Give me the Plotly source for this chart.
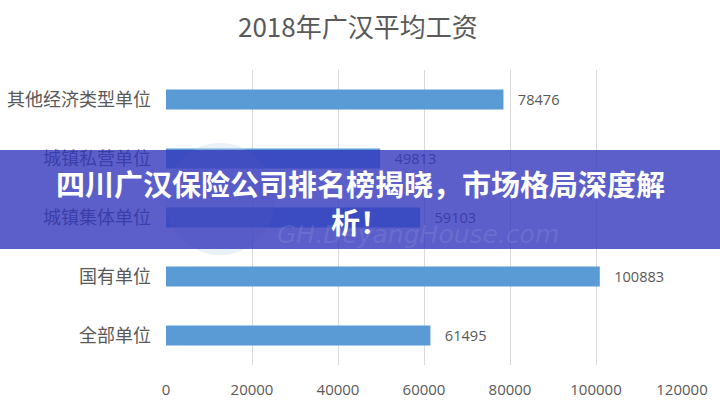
import plotly.graph_objects as go

# 2018 average annual wage in Guanghan, by type of employer (yuan)
categories = ["其他经济类型单位", "城镇私营单位", "城镇集体单位", "国有单位", "全部单位"]
wages = [78476, 49813, 59103, 100883, 61495]
x_ticks = [0, 20000, 40000, 60000, 80000, 100000, 120000]

title_text = "2018年广汉平均工资"
banner_lines = ["四川广汉保险公司排名榜揭晓，市场格局深度解", "析！"]
watermark_text = "GH.DeyangHouse.com"

TEXT_GREY = "#595959"
BAR_BLUE = "#5b9bd5"
CJK = "Noto Sans CJK SC"
NUM = "Open Sans"

# plot area in pixels: used to place overlay shapes in paper coordinates
L, R, T, B = 166, 38, 70, 35
PW, PH = 720 - L - R, 400 - T - B


def px_x(x):
    return (x - L) / PW


def px_y(y):
    return (400 - B - y) / PH


fig = go.Figure(
    go.Bar(
        x=wages,
        y=categories,
        orientation="h",
        marker=dict(color=BAR_BLUE, line=dict(width=0)),
        width=0.34,
        text=[str(v) for v in wages],
        texttemplate="\u00a0\u00a0\u00a0%{text}",
        textposition="outside",
        textfont=dict(family=NUM, size=16, color=TEXT_GREY),
        cliponaxis=False,
        hoverinfo="skip",
    )
)

fig.update_layout(
    width=720,
    height=400,
    margin=dict(l=L, r=R, t=T, b=B, autoexpand=False),
    paper_bgcolor="white",
    plot_bgcolor="white",
    showlegend=False,
    title=dict(
        text=title_text,
        x=0.497,
        xanchor="center",
        y=0.93,
        yanchor="middle",
        font=dict(family=CJK, size=26, color=TEXT_GREY),
    ),
    xaxis=dict(
        range=[0, 120000],
        tickvals=x_ticks,
        ticktext=[str(t) for t in x_ticks],
        showgrid=True,
        gridcolor="#d9d9d9",
        gridwidth=1,
        zeroline=False,
        showline=False,
        ticks="",
        ticklabelstandoff=14,
        tickfont=dict(family=NUM, size=15, color=TEXT_GREY),
        automargin=False,
        fixedrange=True,
    ),
    yaxis=dict(
        autorange="reversed",
        showgrid=False,
        zeroline=False,
        showline=False,
        ticks="",
        ticklabelstandoff=14,
        tickfont=dict(family=CJK, size=18, color=TEXT_GREY),
        automargin=False,
        fixedrange=True,
    ),
)

# faint site logo behind the banner
fig.add_shape(
    type="circle",
    xref="paper", yref="paper",
    x0=px_x(165), x1=px_x(275),
    y0=px_y(255), y1=px_y(143),
    fillcolor="rgba(185,205,232,0.3)",
    line=dict(width=0),
    layer="above",
)

# headline banner across the middle of the chart
fig.add_shape(
    type="rect",
    xref="paper", yref="paper",
    x0=px_x(0), x1=px_x(720),
    y0=px_y(249), y1=px_y(150),
    fillcolor="rgba(51,55,187,0.8)",
    line=dict(width=0),
    layer="above",
)

fig.add_annotation(
    text=watermark_text,
    xref="paper", yref="paper",
    x=px_x(418), y=px_y(234),
    xanchor="center", yanchor="middle",
    showarrow=False,
    font=dict(family="DejaVu Sans", size=25, color="rgba(175,195,230,0.16)", style="italic"),
)

for line, yc in zip(banner_lines, [183, 221]):
    fig.add_annotation(
        text=line,
        xref="paper", yref="paper",
        x=px_x(360), y=px_y(yc),
        xanchor="center", yanchor="middle",
        showarrow=False,
        font=dict(family=CJK, size=29, color="white", weight="bold"),
    )

fig.write_html("out.html")
